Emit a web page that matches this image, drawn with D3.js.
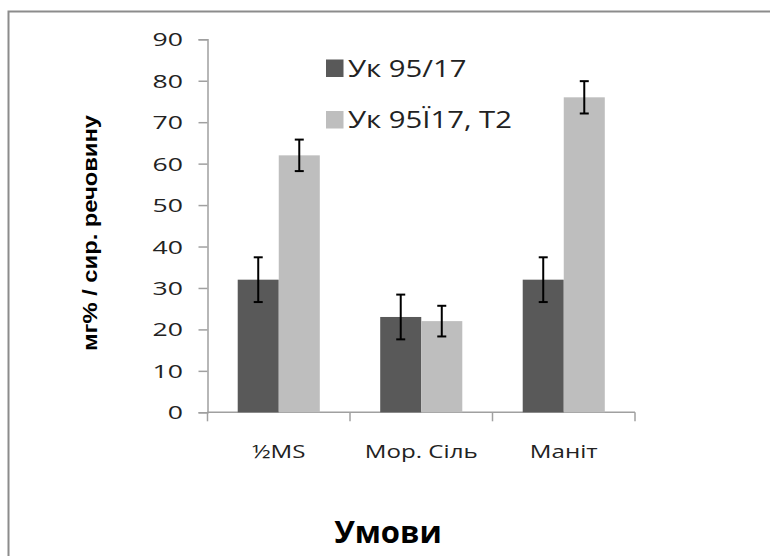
<!DOCTYPE html>
<html>
<head>
<meta charset="utf-8">
<script src="https://cdn.jsdelivr.net/npm/d3@7"></script>
<style>
    body { margin: 0; background: #fff; }
    svg { display: block; }
</style>
</head>
<body>
<script>
(function() {
    // chart data
    var categories = ["½MS", "Мор. Сіль", "Маніт"];
    var seriesNames = ["Ук 95/17", "Ук 95Ї17, Т2"];
    var seriesColors = ["#595959", "#bebebe"];
    var valuesA = [32, 23, 32];
    var errorsA = [5.4, 5.4, 5.4];
    var valuesB = [62, 22, 76];
    var errorsB = [3.8, 3.7, 3.9];
    var yTicks = [0, 10, 20, 30, 40, 50, 60, 70, 80, 90];

    var width = 770, height = 556;
    var svg = d3.select("body").append("svg")
        .attr("width", width)
        .attr("height", height);

    // outer frame (runs off right/bottom edge)
    svg.append("rect")
        .attr("x", 8.5).attr("y", 11.5)
        .attr("width", 800).attr("height", 600)
        .attr("fill", "#fff")
        .attr("stroke", "#8c8c8c")
        .attr("stroke-width", 2);

    var plot = { left: 207.5, right: 635, top: 39.3, bottom: 412.3 };

    var y = d3.scaleLinear().domain([0, 90]).range([plot.bottom, plot.top]);
    var x = d3.scaleBand().domain(categories)
        .range([plot.left, plot.right])
        .paddingInner(0.424).paddingOuter(0.212);
    var xs = d3.scaleBand().domain(seriesNames).range([0, x.bandwidth()]);

    // stretched text helper
    function label(g, tx, ty, str, sx) {
        return g.append("text")
            .attr("transform", "translate(" + tx + "," + ty + ") scale(" + sx + ",1)")
            .text(str);
    }

    // y axis
    var yAxis = svg.append("g")
        .attr("transform", "translate(" + plot.left + ",0)")
        .call(d3.axisLeft(y).tickValues(yTicks).tickSize(9).tickFormat(""));
    yAxis.select(".domain").attr("stroke", "#a0a0a0").attr("stroke-width", 1.5);
    yAxis.selectAll(".tick line").attr("stroke", "#a0a0a0").attr("stroke-width", 1.5);

    var tickLabels = svg.append("g")
        .attr("font-family", "Open Sans")
        .attr("font-size", 19)
        .attr("fill", "#222")
        .attr("text-anchor", "end");
    yTicks.forEach(function(t) {
        label(tickLabels, 183, y(t) + 7, t, 1.4);
    });

    // x axis
    var bounds = [plot.left].concat(categories.map(function(c) {
        return x(c) + x.bandwidth() + x.step() * x.paddingInner() / 2;
    }));
    svg.append("line")
        .attr("x1", plot.left).attr("x2", plot.right)
        .attr("y1", plot.bottom).attr("y2", plot.bottom)
        .attr("stroke", "#a0a0a0").attr("stroke-width", 1.5);
    svg.selectAll(".xtick").data(bounds).enter().append("line")
        .attr("x1", function(d) { return d; }).attr("x2", function(d) { return d; })
        .attr("y1", plot.bottom).attr("y2", plot.bottom + 9)
        .attr("stroke", "#a0a0a0").attr("stroke-width", 1.5);

    var catLabels = svg.append("g")
        .attr("font-family", "Open Sans")
        .attr("font-size", 19)
        .attr("fill", "#222")
        .attr("text-anchor", "middle");
    categories.forEach(function(c) {
        label(catLabels, x(c) + x.bandwidth() / 2, 458, c, 1.27);
    });

    // bars
    var series = [
        { name: seriesNames[0], values: valuesA, errors: errorsA, color: seriesColors[0] },
        { name: seriesNames[1], values: valuesB, errors: errorsB, color: seriesColors[1] }
    ];
    series.forEach(function(s) {
        var g = svg.append("g");
        g.selectAll("rect").data(s.values).enter().append("rect")
            .attr("x", function(d, i) { return x(categories[i]) + xs(s.name); })
            .attr("y", function(d) { return y(d); })
            .attr("width", xs.bandwidth())
            .attr("height", function(d) { return y(0) - y(d); })
            .attr("fill", s.color);

        // error bars
        var eb = g.selectAll(".err").data(s.values).enter().append("g")
            .attr("stroke", "#000").attr("stroke-width", 2);
        eb.append("line")
            .attr("x1", function(d, i) { return x(categories[i]) + xs(s.name) + xs.bandwidth() / 2; })
            .attr("x2", function(d, i) { return x(categories[i]) + xs(s.name) + xs.bandwidth() / 2; })
            .attr("y1", function(d, i) { return y(d + s.errors[i]); })
            .attr("y2", function(d, i) { return y(d - s.errors[i]); });
        [1, -1].forEach(function(sign) {
            eb.append("line")
                .attr("x1", function(d, i) { return x(categories[i]) + xs(s.name) + xs.bandwidth() / 2 - 4.5; })
                .attr("x2", function(d, i) { return x(categories[i]) + xs(s.name) + xs.bandwidth() / 2 + 4.5; })
                .attr("y1", function(d, i) { return y(d + sign * s.errors[i]); })
                .attr("y2", function(d, i) { return y(d + sign * s.errors[i]); });
        });
    });

    // legend
    var legend = svg.append("g")
        .attr("font-family", "Open Sans")
        .attr("font-size", 24)
        .attr("fill", "#222");
    series.forEach(function(s, i) {
        var cy = 68 + i * 51.5;
        legend.append("rect")
            .attr("x", 326).attr("y", cy - 8.5)
            .attr("width", 17.5).attr("height", 17.5)
            .attr("fill", s.color);
        label(legend, 348, cy + 8.5, s.name, 1.22);
    });

    // axis titles
    svg.append("text")
        .attr("transform", "translate(97,233) rotate(-90) scale(1.32,1.15)")
        .attr("text-anchor", "middle")
        .attr("font-family", "Liberation Sans")
        .attr("font-weight", "bold")
        .attr("font-size", 18)
        .attr("fill", "#000")
        .text("мг% / сир. речовину");

    svg.append("text")
        .attr("x", 388).attr("y", 543)
        .attr("text-anchor", "middle")
        .attr("font-family", "Open Sans")
        .attr("font-weight", "bold")
        .attr("font-size", 31)
        .attr("fill", "#000")
        .text("Умови");
})();
</script>
</body>
</html>
